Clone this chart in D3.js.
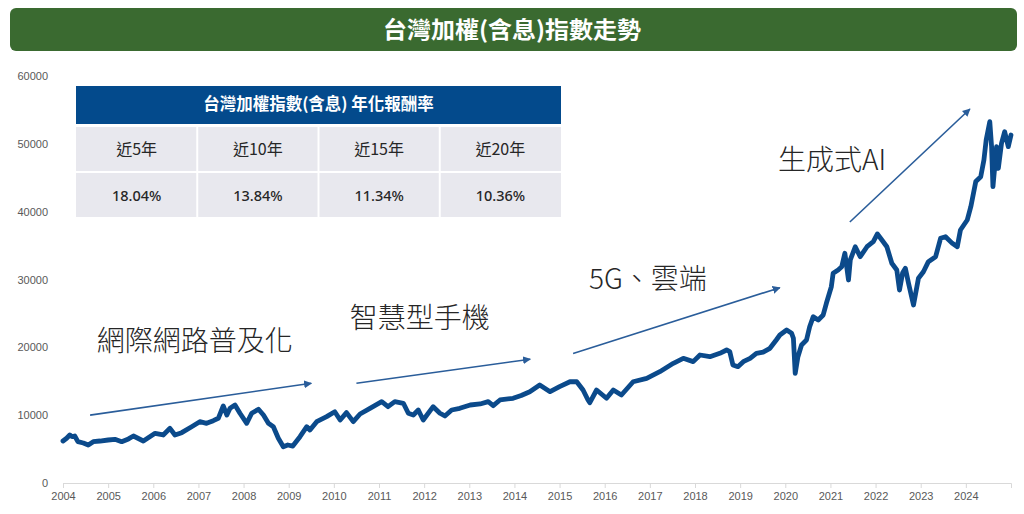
<!DOCTYPE html>
<html><head><meta charset="utf-8">
<script src="https://cdn.jsdelivr.net/npm/d3@7"></script>
<style>
html,body{margin:0;padding:0;background:#fff;}
svg{display:block;font-family:"Noto Sans CJK TC","Noto Sans",sans-serif;}
</style></head>
<body><svg id="c" width="1024" height="514"></svg>
<script>
// ---- data ----
const title = "台灣加權(含息)指數走勢";
const dates = [2004.00,2004.08,2004.15,2004.20,2004.26,2004.33,2004.45,2004.56,2004.67,2004.82,
2005.00,2005.15,2005.30,2005.45,2005.56,2005.78,2006.04,2006.22,2006.37,2006.48,2006.63,2006.85,
2007.03,2007.18,2007.33,2007.44,2007.55,2007.63,2007.70,2007.81,2007.92,2008.07,2008.18,2008.33,
2008.44,2008.55,2008.66,2008.77,2008.88,2008.98,2009.09,2009.25,2009.40,2009.47,2009.62,2009.84,
2010.02,2010.14,2010.28,2010.43,2010.58,2010.80,2011.06,2011.20,2011.35,2011.54,2011.65,2011.76,
2011.87,2011.98,2012.20,2012.35,2012.46,2012.61,2012.79,2013.02,2013.24,2013.42,2013.53,2013.68,
2013.97,2014.15,2014.34,2014.56,2014.79,2015.00,2015.23,2015.38,2015.52,2015.63,2015.67,2015.82,
2016.04,2016.19,2016.37,2016.63,2016.93,2017.22,2017.52,2017.74,2017.96,2018.11,2018.33,2018.55,
2018.70,2018.77,2018.84,2018.95,2019.07,2019.22,2019.36,2019.51,2019.66,2019.80,2019.88,2020.03,
2020.14,2020.18,2020.22,2020.28,2020.36,2020.47,2020.54,2020.62,2020.73,2020.84,2020.91,2021.02,
2021.06,2021.17,2021.25,2021.32,2021.40,2021.44,2021.55,2021.66,2021.81,2021.95,2022.04,2022.14,
2022.25,2022.36,2022.47,2022.53,2022.60,2022.66,2022.73,2022.84,2022.95,2023.06,2023.17,2023.33,
2023.44,2023.55,2023.70,2023.81,2023.88,2024.03,2024.11,2024.22,2024.33,2024.40,2024.45,2024.53,
2024.57,2024.60,2024.68,2024.72,2024.79,2024.86,2024.94,2025.00];
const values = [6190,6600,7080,6830,6930,6090,5900,5600,6090,6190,
6340,6440,6090,6500,6930,6190,7320,7080,8060,7080,7420,8300,
9040,8800,9190,9540,11350,10020,11010,11500,10280,8800,10280,10870,
10020,8800,8300,6590,5350,5600,5450,6830,8300,7810,9040,9780,
10510,9290,10370,9040,10170,11010,11990,11250,11990,11750,10280,10020,
10760,9290,11250,10280,9880,10760,11010,11500,11650,11990,11400,12240,
12490,12900,13460,14450,13460,14200,14930,14930,13710,12240,11840,13710,
12490,13710,12970,14930,15430,16410,17650,18380,17890,18870,18620,19120,
19610,19360,17400,17150,17890,18380,19120,19300,19860,21080,21820,22550,
22070,21330,16170,18620,20340,21080,23040,24520,24030,24770,26490,28940,
30920,31400,31890,33870,29930,32880,34830,33360,34830,35570,36710,35820,
34830,32390,31400,28450,31000,31650,29440,26240,30180,31150,32630,33360,
36070,36310,35330,34830,37300,38770,40730,44440,45160,47620,50570,53270,
49580,43680,49580,46390,50080,51790,49580,51300];
const xTickYears = [2004,2005,2006,2007,2008,2009,2010,2011,2012,2013,2014,2015,2016,2017,2018,2019,2020,2021,2022,2023,2024];
const yTicks = [0,10000,20000,30000,40000,50000,60000];
const tableTitle = "台灣加權指數(含息) 年化報酬率";
const periods = ["近5年","近10年","近15年","近20年"];
const returns = ["18.04%","13.84%","11.34%","10.36%"];
// annotations: arrow start / end and label anchor, in (year, index value)
const eras = ["網際網路普及化","智慧型手機","5G、雲端","生成式AI"];
const arrowFrom = [[2004.6,10000],[2010.5,14700],[2015.3,19100],[2021.43,38480]];
const arrowTo   = [[2009.5,14700],[2014.35,18250],[2019.88,28800],[2024.09,55140]];
const textPos   = [[2004.75,19400],[2010.35,22800],[2015.65,28600],[2019.84,46100]];

// ---- layout ----
const svg = d3.select("#c");
const x = d3.scaleLinear().domain([2004, 2025]).range([63, 1011]);
const y = d3.scaleLinear().domain([0, 60000]).range([483, 76]);

// title bar
svg.append("rect").attr("x",10).attr("y",8).attr("width",1007).attr("height",43)
  .attr("rx",6).attr("fill","#3a6a30");
svg.append("text").attr("x",512).attr("y",38).attr("text-anchor","middle")
  .attr("fill","#fff").attr("font-size",23).attr("font-weight","bold")
  .attr("textLength",258).attr("lengthAdjust","spacingAndGlyphs").text(title);

// y axis labels
svg.append("g").selectAll("text").data(yTicks).join("text")
  .attr("x",48).attr("y",d=>y(d)+4).attr("text-anchor","end")
  .attr("font-family","'Liberation Sans',sans-serif").attr("font-size",11).attr("fill","#595959")
  .text(d=>d);

// x axis
const xAxis = d3.axisBottom(x).tickValues(xTickYears).tickFormat(d3.format("d")).tickSizeOuter(0).tickSize(5).tickPadding(4);
const gx = svg.append("g").attr("transform","translate(0,483)").call(xAxis);
gx.select(".domain").attr("stroke","#d9d9d9");
gx.selectAll(".tick line").attr("stroke","#d9d9d9");
gx.selectAll(".tick text").attr("font-family","'Liberation Sans',sans-serif").attr("font-size",11).attr("fill","#595959");

// line
const data = dates.map((d,i)=>({d, v: values[i]}));
svg.append("path").datum(data)
  .attr("fill","none").attr("stroke","#0b4a8b").attr("stroke-width",4.8)
  .attr("stroke-linejoin","round").attr("stroke-linecap","round")
  .attr("d", d3.line().x(p=>x(p.d)).y(p=>y(p.v)));

// arrows
const defs = svg.append("defs");
defs.append("marker").attr("id","ah").attr("viewBox","0 0 10 10").attr("refX",9).attr("refY",5)
  .attr("markerWidth",8).attr("markerHeight",8).attr("markerUnits","userSpaceOnUse")
  .attr("orient","auto").append("path").attr("d","M0,0L10,5L0,10z").attr("fill","#2a5d9a");
svg.append("g").selectAll("line").data(eras).join("line")
  .attr("x1",(d,i)=>x(arrowFrom[i][0])).attr("y1",(d,i)=>y(arrowFrom[i][1]))
  .attr("x2",(d,i)=>x(arrowTo[i][0])).attr("y2",(d,i)=>y(arrowTo[i][1]))
  .attr("stroke","#2a5d9a").attr("stroke-width",1.6).attr("marker-end","url(#ah)");
svg.append("g").selectAll("text").data(eras).join("text")
  .attr("x",(d,i)=>x(textPos[i][0])).attr("y",(d,i)=>y(textPos[i][1]))
  .attr("font-size",28).attr("font-weight",300).attr("fill","#262626").text(d=>d);

// table
const tx = 76, tw = 485, colW = tw/4;
svg.append("rect").attr("x",tx).attr("y",86).attr("width",tw).attr("height",38).attr("fill","#034a8c");
svg.append("text").attr("x",tx+tw/2).attr("y",110).attr("text-anchor","middle")
  .attr("fill","#fff").attr("font-size",16.5).attr("font-weight","bold").text(tableTitle);
const rows = [periods, returns];
const rowY = [127, 173], rowH = [44, 44];
rows.forEach((r,ri)=>{
  const g = svg.append("g");
  g.selectAll("rect").data(r).join("rect")
    .attr("x",(d,i)=>tx+i*colW+(i>0?1:0)).attr("y",rowY[ri])
    .attr("width",(d,i)=>colW-(i>0?1:0)-(i<3?1:0)).attr("height",rowH[ri]).attr("fill","#e8e8ee");
  g.selectAll("text").data(r).join("text")
    .attr("x",(d,i)=>tx+i*colW+colW/2).attr("y",rowY[ri]+rowH[ri]/2+5.5)
    .attr("text-anchor","middle").attr("font-size",ri===0?16:14.5)
    .attr("font-weight",ri===0?"normal":500)
    .attr("font-family", ri===0 ? null : "'Noto Sans',sans-serif")
    .attr("fill","#262626").text(d=>d);
});
</script></body></html>
